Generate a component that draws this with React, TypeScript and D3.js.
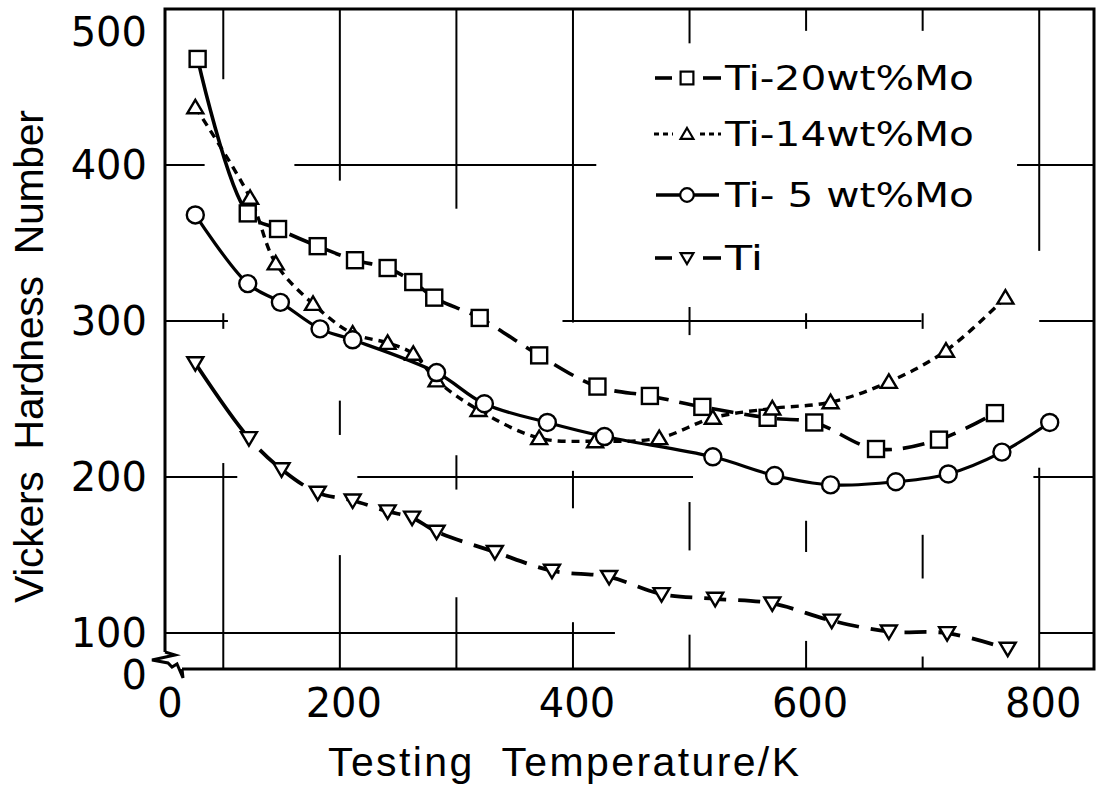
import React from "react";
import * as d3 from "d3";

// ---- data (Testing temperature / K, Vickers hardness number) ----
const tempTi20 = [78, 121, 147, 181, 213, 241, 263, 281, 320, 371, 421, 466, 511, 567, 607, 660, 714, 762];
const hvTi20 = [468, 369, 359, 348, 339, 334, 325, 315, 302, 278, 258, 252, 245, 238, 235, 218, 224, 241];
const tempTi14 = [76, 123, 145, 177, 211, 241, 263, 283, 319, 371, 419, 474, 520, 571, 621, 671, 720, 771];
const hvTi14 = [437, 379, 337, 311, 292, 286, 279, 262, 243, 225, 223, 225, 238, 244, 248, 261, 281, 315];
const tempTi5 = [76, 121, 149, 183, 211, 283, 324, 378, 427, 520, 573, 621, 677, 722, 768, 809];
const hvTi5 = [368, 324, 312, 295, 288, 267, 247, 235, 226, 213, 201, 195, 197, 202, 216, 235];
const tempTi = [76, 122, 150, 181, 211, 241, 262, 283, 333, 382, 431, 476, 522, 571, 622, 671, 721, 773];
const hvTi = [273, 225, 205, 190, 185, 178, 174, 165, 152, 140, 136, 125, 122, 119, 108, 101, 100, 90];

const seriesNames = ["Ti-20wt%Mo", "Ti-14wt%Mo", "Ti- 5 wt%Mo", "Ti"];
const yTickValues = [100, 200, 300, 400, 500];
const xTickValues = [200, 400, 600, 800];
const xTitle = "Testing  Temperature/K";
const yTitle = "Vickers  Hardness  Number";

// graph-paper remnants: vertical [T, hvFrom, hvTo], horizontal [hv, Tfrom, Tto]
const gridV: [number, number, number][] = [
  [100, 455, 500], [100, 295, 305], [100, 77, 209],
  [200, 390, 500], [200, 227, 249], [200, 77, 150],
  [300, 372, 500], [300, 192, 214], [300, 77, 123],
  [400, 299, 500], [400, 180, 204], [400, 77, 107],
  [500, 478, 500], [500, 291, 309], [500, 153, 184], [500, 77, 99],
  [600, 486, 500], [600, 295, 305], [600, 152, 172], [600, 77, 95],
  [700, 486, 500], [700, 295, 305], [700, 135, 163], [700, 77, 85],
  [800, 345, 500], [800, 77, 206],
];
const gridH: [number, number, number][] = [
  [400, 50, 84], [400, 161, 420], [400, 781, 847],
  [300, 50, 104], [300, 391, 699], [300, 800, 847],
  [200, 50, 112], [200, 215, 503], [200, 795, 847],
  [100, 50, 436], [100, 800, 847],
];

const W = 1117;
const H = 785;
const x = d3.scaleLinear().domain([50, 847]).range([165, 1094]);
const y = d3.scaleLinear().domain([77, 500]).range([669, 9]);

type Marker = "square" | "up" | "circle" | "down";

function dashArray(first: number, dash: number, gap: number): string {
  const out: number[] = [];
  if (first > 0) out.push(first, gap);
  let total = first;
  while (total < 3000) {
    out.push(dash, gap);
    total += dash + gap;
  }
  return out.join(",");
}

function MarkerShape({ type, cx, cy, s = 1, sw = 2.4 }: { type: Marker; cx: number; cy: number; s?: number; sw?: number }) {
  const common = { fill: "#fff", stroke: "#000", strokeWidth: sw };
  if (type === "square") return <rect x={cx - 8 * s} y={cy - 8 * s} width={16 * s} height={16 * s} {...common} />;
  if (type === "circle") return <circle cx={cx} cy={cy} r={8.5 * s} {...common} />;
  if (type === "up")
    return <polygon points={`${cx},${cy - 7.5 * s} ${cx + 8 * s},${cy + 6 * s} ${cx - 8 * s},${cy + 6 * s}`} {...common} strokeLinejoin="miter" />;
  return <polygon points={`${cx},${cy + 7.5 * s} ${cx + 8 * s},${cy - 6 * s} ${cx - 8 * s},${cy - 6 * s}`} {...common} strokeLinejoin="miter" />;
}

const line = d3
  .line<[number, number]>()
  .x((d) => x(d[0]))
  .y((d) => y(d[1]))
  .curve(d3.curveCatmullRom.alpha(0.5));

export default function App() {
  const series = [
    { name: seriesNames[0], t: tempTi20, v: hvTi20, marker: "square" as Marker, dash: 22, gap: 11, width: 3.6, solidFirst: true, solid: false },
    { name: seriesNames[1], t: tempTi14, v: hvTi14, marker: "up" as Marker, dash: 8, gap: 6, width: 3.4, solidFirst: false, solid: false },
    { name: seriesNames[2], t: tempTi5, v: hvTi5, marker: "circle" as Marker, dash: 0, gap: 0, width: 3.2, solidFirst: false, solid: true },
    { name: seriesNames[3], t: tempTi, v: hvTi, marker: "down" as Marker, dash: 22, gap: 12, width: 3.8, solidFirst: true, solid: false },
  ];

  const legendRows = [78, 134, 195, 258];
  const font = "'Liberation Sans', Arial, sans-serif";
  const digitFont = "'DejaVu Sans', sans-serif";

  return (
    <svg
      width={W}
      height={H}
      viewBox={`0 0 ${W} ${H}`}
      style={{ position: "absolute", left: 0, top: 0, display: "block", background: "#fff" }}
    >
      <rect x={0} y={0} width={W} height={H} fill="#fff" />
      {/* grid remnants */}
      <g stroke="#000" strokeWidth={2}>
        {gridV.map(([t, a, b], i) => (
          <line key={`v${i}`} x1={x(t)} x2={x(t)} y1={y(a)} y2={y(b)} />
        ))}
        {gridH.map(([v, a, b], i) => (
          <line key={`h${i}`} x1={x(a)} x2={x(b)} y1={y(v)} y2={y(v)} />
        ))}
      </g>
      {/* frame with axis break */}
      <path
        d={`M${x(50)},${y(77) - 17} V${y(500)} H${x(847)} V${y(77)} H${x(50) + 17}`}
        fill="none"
        stroke="#000"
        strokeWidth={3}
      />
      <path
        d={`M${x(50)},${y(77) - 17} L${x(50) + 10},${y(77) - 14} L${x(50) - 13},${y(77) - 9} L${x(50) + 3},${y(77) - 6} L${x(50) + 7},${y(77) - 2} L${x(50) + 12},${y(77) - 5} L${x(50) + 18},${y(77) + 9} L${x(50) + 17},${y(77)}`}
        fill="none"
        stroke="#000"
        strokeWidth={3}
        strokeLinejoin="miter"
      />
      {/* series lines */}
      {series.map((s, i) => {
        const pts = s.t.map((t, j) => [t, s.v[j]] as [number, number]);
        const first = s.solidFirst
          ? Math.hypot(x(pts[1][0]) - x(pts[0][0]), y(pts[1][1]) - y(pts[0][1])) + 4
          : 0;
        return (
          <path
            key={`l${i}`}
            d={line(pts) || ""}
            fill="none"
            stroke="#000"
            strokeWidth={s.width}
            strokeDasharray={s.solid ? undefined : dashArray(first, s.dash, s.gap)}
          />
        );
      })}
      {/* markers */}
      {series.map((s, i) => (
        <g key={`m${i}`}>
          {s.t.map((t, j) => (
            <MarkerShape key={j} type={s.marker} cx={x(t)} cy={y(s.v[j])} />
          ))}
        </g>
      ))}
      {/* legend */}
      {series.map((s, i) => {
        const ly = legendRows[i];
        const cx = 687;
        return (
          <g key={`lg${i}`}>
            {s.solid ? (
              <line x1={656} x2={719} y1={ly} y2={ly} stroke="#000" strokeWidth={3.4} />
            ) : s.dash > 10 ? (
              <g stroke="#000" strokeWidth={3.6}>
                <line x1={655} x2={672} y1={ly} y2={ly} />
                <line x1={703} x2={721} y1={ly} y2={ly} />
              </g>
            ) : (
              <g stroke="#000" strokeWidth={3.2} strokeDasharray="5,4">
                <line x1={654} x2={673} y1={ly} y2={ly} />
                <line x1={700} x2={721} y1={ly} y2={ly} />
              </g>
            )}
            <MarkerShape type={s.marker} cx={cx} cy={ly} s={0.8} sw={2.2} />
            <text
              x={725}
              y={ly + 12}
              fontFamily={digitFont}
              fontSize={34}
              textLength={i === 3 ? 38 : 249}
              lengthAdjust="spacingAndGlyphs"
              style={{ whiteSpace: "pre" }}
            >
              {s.name}
            </text>
          </g>
        );
      })}
      {/* y tick labels */}
      {yTickValues.map((v) => (
        <text
          key={`yt${v}`}
          x={147}
          y={Math.max(y(v), 32)}
          textAnchor="end"
          dominantBaseline="central"
          fontFamily={digitFont}
          fontSize={40}
        >
          {v}
        </text>
      ))}
      <text x={147} y={y(77) + 6} textAnchor="end" dominantBaseline="central" fontFamily={digitFont} fontSize={40}>
        0
      </text>
      {/* x tick labels */}
      {xTickValues.map((v) => (
        <text
          key={`xt${v}`}
          x={x(v) + 4}
          y={703}
          textAnchor="middle"
          dominantBaseline="central"
          fontFamily={digitFont}
          fontSize={40}
        >
          {v}
        </text>
      ))}
      <text x={x(50) + 5} y={703} textAnchor="middle" dominantBaseline="central" fontFamily={digitFont} fontSize={40}>
        0
      </text>
      {/* axis titles */}
      <text
        x={328}
        y={776}
        fontFamily={font}
        fontSize={41}
        textLength={471}
        lengthAdjust="spacing"
        style={{ whiteSpace: "pre" }}
      >
        {xTitle}
      </text>
      <text
        transform="translate(43,603) rotate(-90)"
        x={0}
        y={0}
        fontFamily={font}
        fontSize={41}
        textLength={493}
        lengthAdjust="spacing"
        style={{ whiteSpace: "pre" }}
      >
        {yTitle}
      </text>
    </svg>
  );
}
